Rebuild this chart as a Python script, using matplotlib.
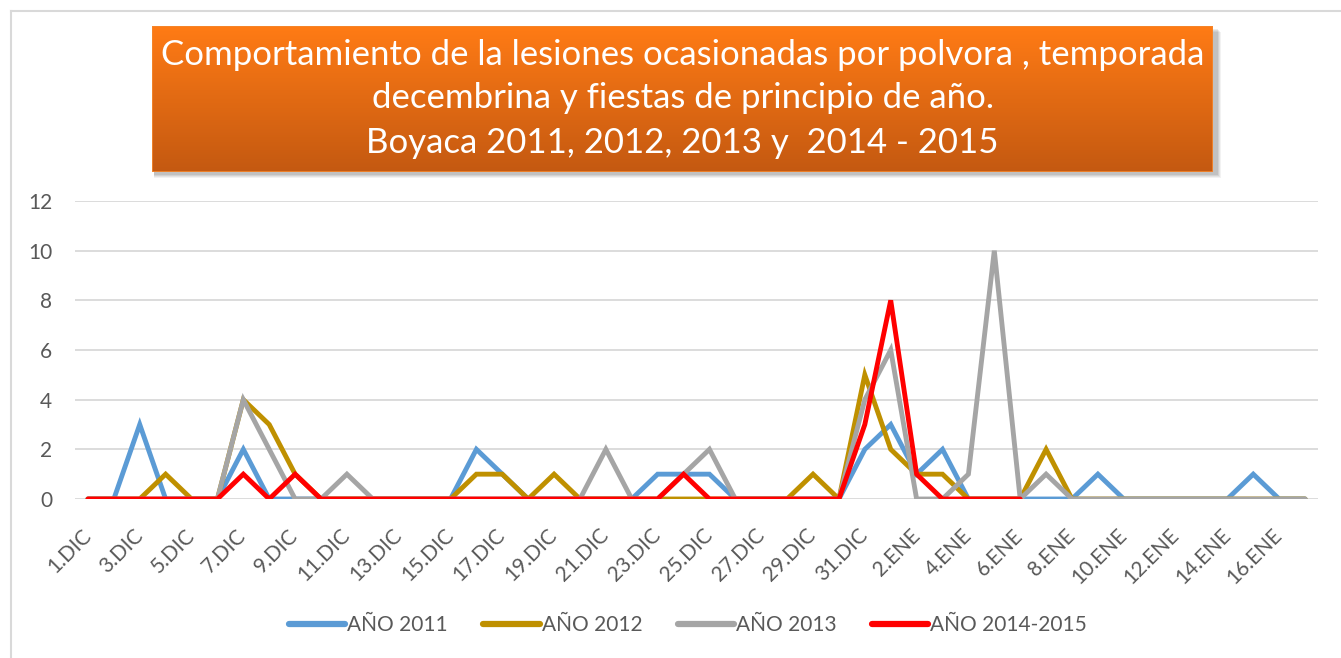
import numpy as np
import matplotlib
matplotlib.use("Agg")
import matplotlib.pyplot as plt
from matplotlib.patches import Rectangle
from matplotlib.lines import Line2D

plt.rcParams['font.family'] = ['Lato', 'DejaVu Sans']

dic_days = list(range(1, 32))
ene_days = list(range(1, 18))
categories = [f"{d}.DIC" for d in dic_days] + [f"{d}.ENE" for d in ene_days]

nan = np.nan
anio_2011 = [0, 0, 3, 0, 0, 0, 2, 0, 0, 0, 0, 0, 0, 0, 0, 2, 1, 0, 0, 0, 0, 0, 1, 1, 1, 0, 0, 0, 0, 0, 2,
             3, 1, 2, 0, 0, 0, 0, 0, 1, 0, 0, 0, 0, 0, 1, 0, 0]
anio_2012 = [0, 0, 0, 1, 0, 0, 4, 3, 1, 0, 0, 0, 0, 0, 0, 1, 1, 0, 1, 0, 0, 0, 0, 0, 0, 0, 0, 0, 1, 0, 5,
             2, 1, 1, 0, 0, 0, 2, 0, 0, 0, 0, 0, 0, 0, 0, 0, 0]
anio_2013 = [0, 0, 0, 0, 0, 0, 4, 2, 0, 0, 1, 0, 0, 0, 0, 0, 0, 0, 0, 0, 2, 0, 0, 1, 2, 0, 0, 0, 0, 0, 4,
             6, 0, 0, 1, 10, 0, 1, 0, 0, 0, 0, 0, 0, 0, 0, 0, 0]
anio_2014_2015 = [0, 0, 0, 0, 0, 0, 1, 0, 1, 0, 0, 0, 0, 0, 0, 0, 0, 0, 0, 0, 0, 0, 0, 1, 0, 0, 0, 0, 0, 0, 3,
                  8, 1, 0, 0, 0, 0, nan, nan, nan, nan, nan, nan, nan, nan, nan, nan, nan]

series_names = ["AÑO 2011", "AÑO 2012", "AÑO 2013", "AÑO 2014-2015"]
series_values = [anio_2011, anio_2012, anio_2013, anio_2014_2015]
series_colors = ["#5B9BD5", "#BF9000", "#A5A5A5", "#FF0000"]

title_lines = ["Comportamiento de la lesiones ocasionadas por polvora , temporada",
               "decembrina y fiestas de principio de año.",
               "Boyaca 2011, 2012, 2013 y  2014 - 2015"]

W, H = 1341, 658
fig = plt.figure(figsize=(W / 100, H / 100), dpi=100)
fig.patch.set_facecolor("white")

def fx(px):
    return px / W

def fy(py):
    return 1 - py / H

# outer chart border (left and top visible)
fig.add_artist(Line2D([fx(11), fx(11)], [fy(11), 0], color="#D9D9D9", lw=1.5, transform=fig.transFigure))
fig.add_artist(Line2D([fx(11), 1], [fy(11), fy(11)], color="#D9D9D9", lw=1.5, transform=fig.transFigure))

# plot area
ax_l, ax_r, ax_t, ax_b = 75, 1318, 201, 499
ax = fig.add_axes([fx(ax_l), fy(ax_b), fx(ax_r - ax_l), (ax_b - ax_t) / H])
x = np.arange(len(categories))
for name, vals, col in zip(series_names, series_values, series_colors):
    ax.plot(x, vals, color=col, lw=3.5, label=name, solid_joinstyle="miter", solid_capstyle="round", zorder=3)

ax.set_xlim(-0.5, len(categories) - 0.5)
ax.set_ylim(0, 12)
ax.set_yticks(np.arange(0, 13, 2))
ax.grid(axis="y", color="#D9D9D9", lw=1.3, zorder=0)
ax.set_axisbelow(True)
for s in ax.spines.values():
    s.set_visible(False)
ax.tick_params(axis="both", length=0, colors="#595959", labelsize=15)
ax.tick_params(axis="y", pad=16.5)
ax.set_xticks(x[::2])
ax.set_xticklabels(categories[::2], rotation=45, ha="right", rotation_mode="anchor", va="center")
ax.tick_params(axis="x", pad=24)

leg = fig.legend(loc="center", bbox_to_anchor=(fx(688), fy(625)), ncol=4, frameon=False,
                 fontsize=15, handlelength=2.7, handletextpad=0.1, columnspacing=1.7,
                 labelcolor="#595959")
for lh in leg.get_lines():
    lh.set_linewidth(4.5)
    lh.set_solid_capstyle("round")

# title box with shadow and gradient
bx0, bx1, by0, by1 = 152, 1213, 26, 172
for i, a in enumerate([0.05, 0.06, 0.07, 0.08]):
    off = 6 - i
    fig.add_artist(Rectangle((fx(bx0 + 2), fy(by1 + off)), fx(bx1 - bx0 + off), (by1 - by0) / H,
                             transform=fig.transFigure, facecolor="#000000", alpha=a, lw=0, zorder=1))
gax = fig.add_axes([fx(bx0), fy(by1), fx(bx1 - bx0), (by1 - by0) / H], zorder=5)
top = np.array([255, 123, 21]) / 255
bot = np.array([196, 89, 17]) / 255
t = np.linspace(0, 1, 200)[:, None]
grad = (top[None, :] * (1 - t) + bot[None, :] * t)[:, None, :]
gax.imshow(grad, aspect="auto", extent=[0, 1, 0, 1], origin="upper")
gax.set_xlim(0, 1)
gax.set_ylim(0, 1)
gax.axis("off")
gax.add_patch(Rectangle((0, 0), 1, 1, transform=gax.transAxes, fill=False, edgecolor="#F4872E", lw=1.2))

line_y = [55, 98, 143]
for txt, yy in zip(title_lines, line_y):
    fig.text(fx((bx0 + bx1) / 2), fy(yy), txt, ha="center", va="center", color="white", fontsize=25, zorder=10)

fig.savefig("out.png", dpi=100)
